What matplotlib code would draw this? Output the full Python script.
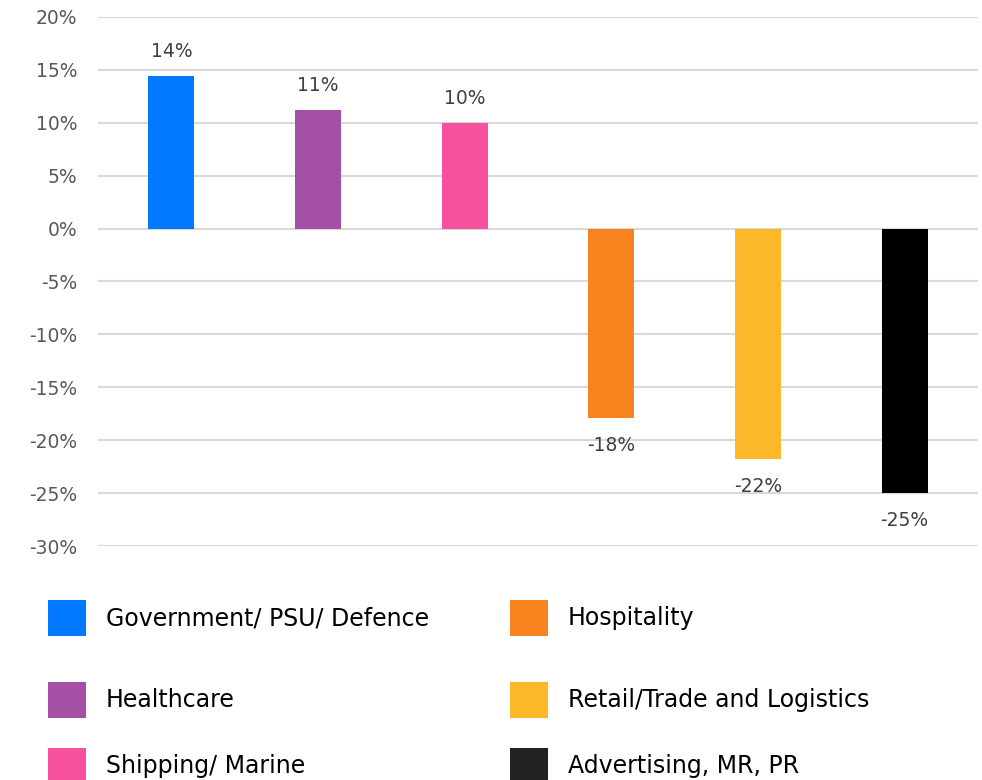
import matplotlib
matplotlib.use("Agg")
import matplotlib.pyplot as plt
from matplotlib.patches import Rectangle
from matplotlib.ticker import FuncFormatter

categories = ["Government/ PSU/ Defence", "Healthcare", "Shipping/ Marine",
              "Hospitality", "Retail/Trade and Logistics", "Advertising, MR, PR"]
values = [14.4, 11.2, 10.0, -17.9, -21.8, -25.0]
labels = ["14%", "11%", "10%", "-18%", "-22%", "-25%"]
colors = ["#0078ff", "#a450a4", "#f7509c", "#f7821e", "#fbb829", "#000000"]
legend_colors = ["#0078ff", "#a450a4", "#f7509c", "#f7821e", "#fbb829", "#222222"]
yticks = [-30, -25, -20, -15, -10, -5, 0, 5, 10, 15, 20]

W, H = 982, 780
fig = plt.figure(figsize=(W / 100, H / 100), dpi=100)
ax = fig.add_axes([98 / W, 1 - 546 / H, 880 / W, 529 / H])

x = list(range(len(categories)))
ax.bar(x, values, width=0.315, color=colors, zorder=3)
ax.set_xlim(-0.5, len(categories) - 0.5)
ax.set_ylim(-30, 20)
ax.set_yticks(yticks)
ax.yaxis.set_major_formatter(FuncFormatter(lambda v, p: f"{v:.0f}%"))
ax.grid(axis="y", color="#d9d9d9", linewidth=1.5, zorder=0)
ax.set_xticks([])
for s in ax.spines.values():
    s.set_visible(False)
ax.tick_params(axis="y", length=0, pad=15, labelsize=13.5, labelcolor="#595959")

for xi, v, lab in zip(x, values, labels):
    if v >= 0:
        ax.annotate(lab, (xi, v), xytext=(0, 11), textcoords="offset points",
                    ha="center", va="bottom", fontsize=13.5, color="#404040")
    else:
        ax.annotate(lab, (xi, v), xytext=(0, -13), textcoords="offset points",
                    ha="center", va="top", fontsize=13.5, color="#404040")

# legend, two columns, filled column by column
col_x = [48, 510]
row_y = [618, 700, 766]
for i, (name, c) in enumerate(zip(categories, legend_colors)):
    cx = col_x[i // 3]
    cy = row_y[i % 3]
    fig.add_artist(Rectangle(((cx) / W, 1 - (cy + 18) / H), 38 / W, 36 / H,
                             transform=fig.transFigure, color=c, lw=0))
    fig.text((cx + 58) / W, 1 - cy / H, name, ha="left", va="center",
             fontsize=17, color="#000000")

fig.savefig("out.png", dpi=100)
